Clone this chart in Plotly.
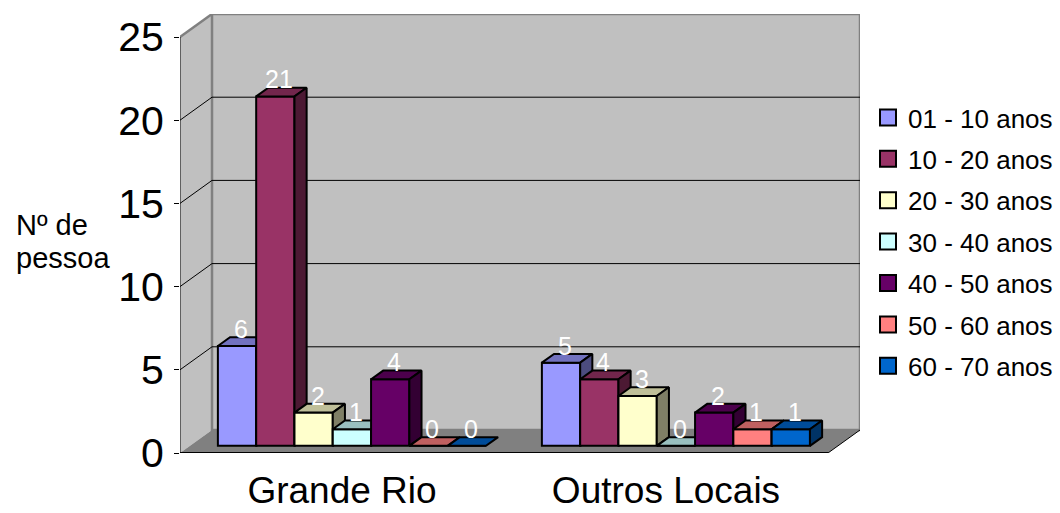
import plotly.graph_objects as go

# ---- data -------------------------------------------------------------
categories = ["Grande Rio", "Outros Locais"]
series_names = ["01 - 10 anos", "10 - 20 anos", "20 - 30 anos", "30 - 40 anos",
                "40 - 50 anos", "50 - 60 anos", "60 - 70 anos"]
grande_rio = [6, 21, 2, 1, 4, 0, 0]
outros_locais = [5, 4, 3, 0, 2, 1, 1]
series_colors = ["#9999FF", "#993366", "#FFFFCC", "#CCFFFF",
                 "#660066", "#FF8080", "#0066CC"]
y_ticks = [0, 5, 10, 15, 20, 25]

values_by_category = [grande_rio, outros_locais]

# ---- oblique 3-D geometry (axis units) ---------------------------------
Y_MAX = 25
DX = 0.0988          # depth of the box along x (category units)
DY = 1.382           # depth of the box along y (value units)
BAR_W = 0.1182       # width of one column
F0, F1 = 0.31, 0.69  # columns sit between these fractions of the depth
X0, X1 = -0.5, 1.5   # front edge of the category axis

FONT = "Liberation Sans, Arial, sans-serif"

# plot-area pixel box, used to place free text in paper coordinates
PL, PR, PT, PB = 180, 860, 14, 453


def px_to_paper(px, py):
    return (px - PL) / (PR - PL), (PB - py) / (PB - PT)


def shade(hex_color, k):
    r, g, b = (int(hex_color[i:i + 2], 16) for i in (1, 3, 5))
    return "#%02X%02X%02X" % (int(r * k), int(g * k), int(b * k))


fig = go.Figure()

base = F0 * DY
ddx = (F1 - F0) * DX
ddy = (F1 - F0) * DY
n = len(series_names)

annotations = []
for s, (name, color) in enumerate(zip(series_names, series_colors)):
    vals = [vs[s] for vs in values_by_category]
    xc = [c - n * BAR_W / 2 + (s + 0.5) * BAR_W + F0 * DX
          for c in range(len(categories))]

    # front faces
    fig.add_trace(go.Bar(
        x=xc, y=vals, base=base, width=BAR_W,
        marker=dict(color=color, line=dict(color="black", width=2)),
        showlegend=False, hoverinfo="skip", zorder=3 * s,
    ))

    # top faces
    tx, ty = [], []
    for x, v in zip(xc, vals):
        yt = base + v
        tx += [x - BAR_W / 2, x + BAR_W / 2, x + BAR_W / 2 + ddx,
               x - BAR_W / 2 + ddx, x - BAR_W / 2, None]
        ty += [yt, yt, yt + ddy, yt + ddy, yt, None]
    fig.add_trace(go.Scatter(
        x=tx, y=ty, mode="lines", fill="toself",
        fillcolor=shade(color, 0.75), line=dict(color="black", width=2),
        showlegend=False, hoverinfo="skip", zorder=3 * s + 1,
    ))

    # right side faces
    sx, sy = [], []
    for x, v in zip(xc, vals):
        if v == 0:
            continue
        xr = x + BAR_W / 2
        yt = base + v
        sx += [xr, xr, xr + ddx, xr + ddx, xr, None]
        sy += [base, yt, yt + ddy, base + ddy, base, None]
    if sx:
        fig.add_trace(go.Scatter(
            x=sx, y=sy, mode="lines", fill="toself",
            fillcolor=shade(color, 0.5), line=dict(color="black", width=2),
            showlegend=False, hoverinfo="skip", zorder=3 * s + 2,
        ))

    # legend entry
    fig.add_trace(go.Scatter(
        x=[None], y=[None], mode="markers", name=name,
        marker=dict(symbol="square", size=16, color=color,
                    line=dict(color="black", width=2)),
        legendgroup=name, hoverinfo="skip",
    ))

    # value labels
    for x, v in zip(xc, vals):
        annotations.append(dict(
            x=x + 0.012, y=base + v, yshift=17, text=str(v),
            showarrow=False, xanchor="center", yanchor="middle",
            font=dict(family=FONT, size=25, color="white"),
        ))

# ---- walls, floor, grid -------------------------------------------------
shapes = []
wall = "#C0C0C0"
edge = "#808080"
# side wall
shapes.append(dict(type="path", xref="x", yref="y", layer="below",
                   path=f"M {X0},0 L {X0},{Y_MAX} L {X0 + DX},{Y_MAX + DY} L {X0 + DX},{DY} Z",
                   fillcolor=wall, line=dict(width=0)))
# back wall
shapes.append(dict(type="rect", xref="x", yref="y", layer="below",
                   x0=X0 + DX, x1=X1 + DX, y0=DY, y1=Y_MAX + DY,
                   fillcolor=wall, line=dict(color=edge, width=2.5)))
# side wall top edge
shapes.append(dict(type="line", xref="x", yref="y", layer="below",
                   x0=X0, y0=Y_MAX, x1=X0 + DX, y1=Y_MAX + DY,
                   line=dict(color=edge, width=2.5)))
# grid lines on back and side walls
for v in y_ticks[1:-1]:
    shapes.append(dict(type="line", xref="x", yref="y", layer="below",
                       x0=X0 + DX, x1=X1 + DX, y0=v + DY, y1=v + DY,
                       line=dict(color="black", width=1)))
    shapes.append(dict(type="line", xref="x", yref="y", layer="below",
                       x0=X0, y0=v, x1=X0 + DX, y1=v + DY,
                       line=dict(color="black", width=1)))
# floor
shapes.append(dict(type="path", xref="x", yref="y", layer="below",
                   path=f"M {X0},0 L {X1},0 L {X1 + DX},{DY} L {X0 + DX},{DY} Z",
                   fillcolor=edge, line=dict(width=0)))
shapes.append(dict(type="line", xref="x", yref="y", layer="below",
                   x0=X1, y0=0, x1=X1 + DX, y1=DY,
                   line=dict(color="black", width=1)))
# front axes
shapes.append(dict(type="line", xref="x", yref="y", layer="below",
                   x0=X0, y0=0, x1=X1, y1=0, line=dict(color="black", width=2)))
shapes.append(dict(type="line", xref="x", yref="y", layer="below",
                   x0=X0, y0=0, x1=X0, y1=Y_MAX, line=dict(color="black", width=1)))
# category boundary ticks
for c in range(len(categories) + 1):
    shapes.append(dict(type="line", xref="x", yref="y", ysizemode="pixel",
                       yanchor=0, x0=X0 + c, x1=X0 + c, y0=0, y1=-8,
                       line=dict(color="black", width=1)))

# axis title, two lines
for text, py in (("Nº de", 225), ("pessoa", 258)):
    ax, ay = px_to_paper(14, py)
    annotations.append(dict(
        xref="paper", yref="paper", x=ax, y=ay, text=text, showarrow=False,
        xanchor="left", yanchor="middle",
        font=dict(family=FONT, size=29, color="black"),
    ))

lx, ly = px_to_paper(868, 94)

fig.update_layout(
    width=1060, height=513,
    margin=dict(l=PL, r=1060 - PR, t=PT, b=513 - PB, pad=0, autoexpand=False),
    paper_bgcolor="white", plot_bgcolor="rgba(0,0,0,0)",
    barmode="overlay",
    font=dict(family=FONT, color="black"),
    xaxis=dict(range=[X0, X1 + DX], tickvals=list(range(len(categories))),
               ticktext=categories, ticks="", showgrid=False, zeroline=False,
               showline=False, tickfont=dict(size=37), ticklabelstandoff=12,
               automargin=False, fixedrange=True),
    yaxis=dict(range=[0, Y_MAX + DY], tickvals=y_ticks, ticks="outside",
               ticklen=5, tickwidth=1, tickcolor="black", showgrid=False,
               zeroline=False, showline=False, tickfont=dict(size=41),
               ticklabelstandoff=2, automargin=False, fixedrange=True),
    legend=dict(x=lx, y=ly, xanchor="left", yanchor="top",
                font=dict(family=FONT, size=26, color="black"),
                tracegroupgap=4.6, bgcolor="rgba(0,0,0,0)"),
    shapes=shapes,
    annotations=annotations,
)

fig.write_html("out.html")
